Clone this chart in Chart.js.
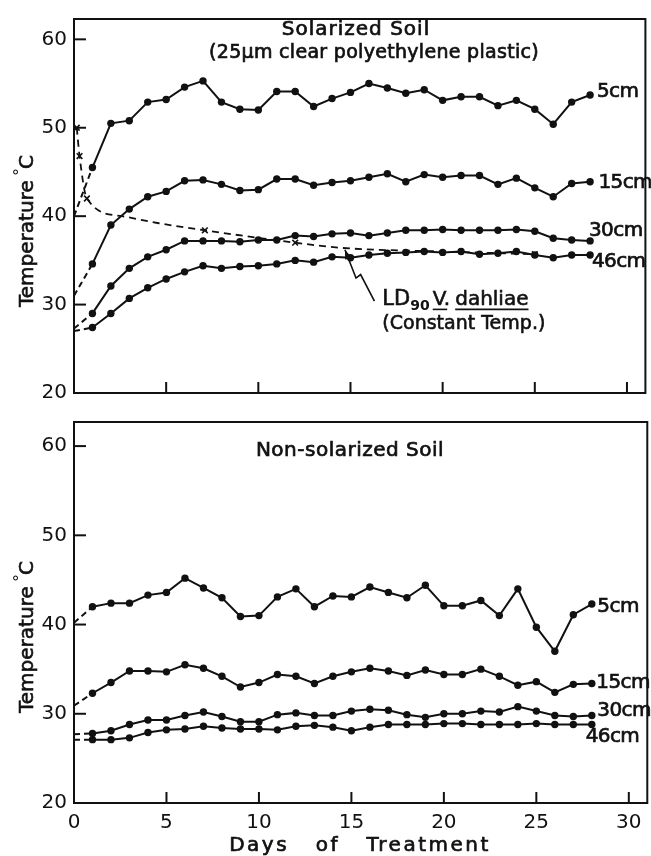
<!DOCTYPE html>
<html><head><meta charset="utf-8">
<script src="https://cdn.jsdelivr.net/npm/chart.js@4.4.0/dist/chart.umd.min.js"></script>
<style>
html,body{margin:0;padding:0;background:#fff;}
#wrap{position:relative;width:651px;height:856px;overflow:hidden;}
canvas{position:absolute;left:0;}
#c1{top:0;} #c2{top:403px;}
</style></head><body>
<div id="wrap"><canvas id="c1" width="651" height="412"></canvas><canvas id="c2" width="651" height="453"></canvas></div>
<script>
// ---- data ----
const days = [0,1,2,3,4,5,6,7,8,9,10,11,12,13,14,15,16,17,18,19,20,21,22,23,24,25,26,27,28];
const solar5  = [40.0,45.5,50.5,50.8,52.9,53.2,54.6,55.3,52.9,52.1,52.0,54.1,54.1,52.4,53.3,54.0,55.0,54.5,53.9,54.3,53.1,53.5,53.5,52.5,53.1,52.1,50.4,52.9,53.7];
const solar15 = [31.0,34.6,39.0,40.8,42.2,42.8,44.0,44.1,43.6,42.9,43.0,44.2,44.2,43.5,43.8,44.0,44.4,44.8,43.9,44.7,44.4,44.6,44.6,43.6,44.3,43.2,42.2,43.7,43.9];
const solar30 = [27.3,29.0,32.1,34.1,35.4,36.2,37.2,37.2,37.2,37.1,37.3,37.3,37.8,37.7,38.0,38.1,37.8,38.1,38.4,38.4,38.5,38.4,38.4,38.4,38.5,38.3,37.5,37.3,37.2];
const solar46 = [27.0,27.4,29.0,30.7,31.9,32.9,33.7,34.4,34.1,34.3,34.4,34.6,35.0,34.8,35.4,35.3,35.6,35.8,35.9,36.0,35.9,36.0,35.7,35.8,36.0,35.6,35.3,35.6,35.6];
const non5  = [40.2,42.0,42.4,42.4,43.3,43.6,45.2,44.1,43.0,40.9,41.0,43.1,44.0,42.0,43.2,43.1,44.2,43.6,43.0,44.4,42.1,42.1,42.7,41.0,44.0,39.7,37.0,41.1,42.3];
const non15 = [30.9,32.3,33.5,34.8,34.8,34.7,35.5,35.1,34.2,33.0,33.5,34.4,34.2,33.4,34.2,34.7,35.1,34.8,34.3,34.9,34.4,34.4,35.0,34.2,33.2,33.6,32.4,33.3,33.4];
const non30 = [27.7,27.8,28.1,28.8,29.3,29.3,29.8,30.2,29.7,29.1,29.1,29.9,30.1,29.8,29.8,30.3,30.5,30.4,29.9,29.6,30.0,30.0,30.3,30.2,30.8,30.3,29.8,29.7,29.8];
const non46 = [27.1,27.1,27.1,27.3,27.9,28.2,28.3,28.6,28.4,28.3,28.3,28.2,28.6,28.7,28.5,28.1,28.5,28.8,28.8,28.8,28.9,28.9,28.8,28.8,28.8,28.9,28.8,28.8,28.8];
const ldDays  = [0.15,0.3,0.7,2.6,4.6,7.1,12.0,14.6,20.0,25.0];
const ldTemps = [50.0,46.8,42.0,40.0,39.2,38.4,37.0,36.4,36.0,35.7];
const ldMarked = [1,1,1,0,0,1,1,0,0,1];
const depthNames = ['5cm','15cm','30cm','46cm'];
const xTickValues = [0,5,10,15,20,25,30];
const yTickValues = [20,30,40,50,60];

const FONT = 'DejaVu Sans';
const INK = '#111';
Chart.defaults.font.family = FONT;
Chart.defaults.color = INK;

function series(vals){
  return {
    data: days.map((d,i)=>({x:d,y:vals[i]})),
    borderColor:INK, backgroundColor:INK, borderWidth:2,
    pointRadius: days.map(d=> d===0 ? 0 : 3.7), pointHoverRadius:0,
    pointBackgroundColor:INK, pointBorderWidth:0,
    tension:0,
    segment:{ borderDash: ctx => ctx.p0DataIndex===0 ? [6,4] : [] }
  };
}

function txt(ctx,s,x,y,size,align,spacing){
  ctx.save();
  ctx.font = size+'px "'+FONT+'"';
  ctx.letterSpacing = (spacing||0)+'px';
  ctx.textAlign = align||'left';
  ctx.textBaseline = 'middle';
  ctx.fillStyle = INK; ctx.strokeStyle = INK; ctx.lineWidth = 0.7;
  ctx.fillText(s,x,y); ctx.strokeText(s,x,y);
  ctx.restore();
}

const decor = {
  id:'decor',
  afterDatasetsDraw(chart){
    const o = chart.options.plugins.decor; if(!o) return;
    const ctx = chart.ctx, a = chart.chartArea, xs = chart.scales.x, ys = chart.scales.y;
    ctx.save();
    ctx.strokeStyle = INK; ctx.lineWidth = 2;
    ctx.strokeRect(a.left, a.top, a.right-a.left, a.bottom-a.top);
    ys.ticks.forEach(t=>{ if(t.value>ys.min){ const p=ys.getPixelForValue(t.value); ctx.beginPath(); ctx.moveTo(a.left,p); ctx.lineTo(a.left+12,p); ctx.stroke(); }});
    xs.ticks.forEach(t=>{ if(t.value>xs.min){ const p=xs.getPixelForValue(t.value); ctx.beginPath(); ctx.moveTo(p,a.bottom); ctx.lineTo(p,a.bottom-11); ctx.stroke(); }});
    ctx.restore();
    o.labels.forEach(l=>{
      txt(ctx,l.text, xs.getPixelForValue(l.x), ys.getPixelForValue(l.y), 20,'left',-0.6);
    });
    o.titles.forEach(t=> txt(ctx,t.text,t.x,t.y,t.size,'center',t.sp));
    // y title rotated
    ctx.save();
    ctx.translate(33, o.yTitleStart);
    ctx.rotate(-Math.PI/2);
    ctx.fillStyle=INK; ctx.strokeStyle=INK; ctx.lineWidth=0.6; ctx.textBaseline='alphabetic'; ctx.textAlign='left';
    ctx.font = '20px "'+FONT+'"';
    const w1 = ctx.measureText('Temperature ').width;
    ctx.fillText('Temperature ',0,0); ctx.strokeText('Temperature ',0,0);
    ctx.font = '16px "'+FONT+'"';
    ctx.fillText('°',w1-2,-8);
    const w2 = ctx.measureText('°').width;
    ctx.font = '20px "'+FONT+'"';
    ctx.fillText('C',w1+w2-3,0); ctx.strokeText('C',w1+w2-3,0);
    ctx.restore();
    if(o.xTitle){ txt(ctx,o.xTitle.text,o.xTitle.x,o.xTitle.y,20,'center',2.5); }
    if(o.ld){
      const ld=o.ld;
      let x = xs.getPixelForValue(ld.x), y = ys.getPixelForValue(ld.y);
      ctx.save(); ctx.fillStyle=INK; ctx.strokeStyle=INK; ctx.textBaseline='alphabetic';
      ctx.lineWidth=0.6;
      ctx.font='21px "'+FONT+'"'; ctx.fillText('LD',x,y+7); ctx.strokeText('LD',x,y+7); x+=ctx.measureText('LD').width;
      ctx.font='bold 14px "'+FONT+'"'; ctx.fillText('90',x,y+12); x+=ctx.measureText('90').width+3;
      ctx.font='20px "'+FONT+'"';
      const wv=ctx.measureText('V.').width; ctx.fillText('V.',x,y+7); ctx.strokeText('V.',x,y+7);
      ctx.lineWidth=1.6; ctx.beginPath(); ctx.moveTo(x,y+11); ctx.lineTo(x+wv-3,y+11); ctx.stroke();
      x+=wv+5;
      ctx.lineWidth=0.6;
      const wd=ctx.measureText('dahliae').width; ctx.fillText('dahliae',x,y+7); ctx.strokeText('dahliae',x,y+7);
      ctx.lineWidth=1.6; ctx.beginPath(); ctx.moveTo(x,y+11); ctx.lineTo(x+wd,y+11); ctx.stroke();
      ctx.lineWidth=0.6;
      ctx.font='19px "'+FONT+'"';
      const cx0 = xs.getPixelForValue(ld.x), cy0 = ys.getPixelForValue(ld.y2)+7;
      ctx.fillText('(Constant Temp.)', cx0, cy0); ctx.strokeText('(Constant Temp.)', cx0, cy0);
      const pts = ld.arrow.map(p=>[xs.getPixelForValue(p[0]), ys.getPixelForValue(p[1])]);
      ctx.lineWidth=1.6; ctx.beginPath(); ctx.moveTo(pts[0][0],pts[0][1]);
      pts.slice(1).forEach(p=>ctx.lineTo(p[0],p[1])); ctx.stroke();
      const e=pts[pts.length-1], s=pts[pts.length-2];
      const ang=Math.atan2(e[1]-s[1],e[0]-s[0]);
      ctx.beginPath(); ctx.moveTo(e[0],e[1]);
      ctx.lineTo(e[0]-10*Math.cos(ang-0.35), e[1]-10*Math.sin(ang-0.35));
      ctx.lineTo(e[0]-10*Math.cos(ang+0.35), e[1]-10*Math.sin(ang+0.35));
      ctx.closePath(); ctx.fill();
      ctx.restore();
    }
  }
};

function makeOpts(cfg){
  return {
    responsive:false, animation:false, devicePixelRatio:1,
    layout:{padding:{left:0,right:3,top:cfg.padTop,bottom:0}},
    plugins:{legend:{display:false}, tooltip:{enabled:false}, decor:cfg.decor},
    scales:{
      x:{type:'linear', min:0, max:31,
        afterBuildTicks:s=>{ s.ticks = xTickValues.map(v=>({value:v})); },
        afterFit:s=>{ s.height = cfg.xH; },
        ticks:{display:cfg.xLabels, padding:8, font:{size:20}, color:INK, maxRotation:0, autoSkip:false},
        grid:{drawOnChartArea:false, drawTicks:false},
        border:{display:true, color:INK, width:2}},
      y:{type:'linear', min:20, max:cfg.yMax,
        afterBuildTicks:s=>{ s.ticks = yTickValues.map(v=>({value:v})); },
        afterFit:s=>{ s.width = 74; },
        ticks:{padding:7, font:{size:20}, color:INK, autoSkip:false},
        grid:{drawOnChartArea:false, drawTicks:false},
        border:{display:true, color:INK, width:2}}
    }
  };
}

const ldSet = {
  data: ldDays.map((d,i)=>({x:d,y:ldTemps[i]})),
  borderColor:INK, borderWidth:1.8, borderDash:[7,5],
  cubicInterpolationMode:'monotone',
  pointStyle:'crossRot', pointRadius: ldMarked.map(m=>m?4:0), pointHoverRadius:0,
  pointBorderColor:INK, pointBorderWidth:1.6
};

new Chart(document.getElementById('c1'), {
  type:'line',
  data:{datasets:[series(solar5),series(solar15),series(solar30),series(solar46),ldSet]},
  options: makeOpts({padTop:13, xH:11, xLabels:false, yMax:62.3, decor:{
    labels:[{text:depthNames[0],x:28.37,y:54.1},{text:depthNames[1],x:28.45,y:43.8},{text:depthNames[2],x:27.94,y:38.3},{text:depthNames[3],x:28.1,y:34.8}],
    titles:[{text:'Solarized Soil',x:356,y:30,size:20,sp:1},{text:'(25\u03bcm clear polyethylene plastic)',x:374,y:53,size:19,sp:0.3}],
    yTitleStart:307,
    ld:{x:16.73,y:30.7,y2:28.06,arrow:[[16.3,30.4],[15.55,33.4],[15.3,33.0],[14.7,36.2]]}
  }}),
  plugins:[decor]
});

new Chart(document.getElementById('c2'), {
  type:'line',
  data:{datasets:[series(non5),series(non15),series(non30),series(non46)]},
  options: makeOpts({padTop:8, xH:53, xLabels:true, yMax:62.7, decor:{
    labels:[{text:depthNames[0],x:28.3,y:42.0},{text:depthNames[1],x:28.24,y:33.5},{text:depthNames[2],x:28.3,y:30.3},{text:depthNames[3],x:27.67,y:27.4}],
    titles:[{text:'Non-solarized Soil',x:350,y:48,size:20,sp:0.5}],
    yTitleStart:310,
    xTitle:{text:'Days   of   Treatment', x:360, y:443}
  }}),
  plugins:[decor]
});
</script>
</body></html>
